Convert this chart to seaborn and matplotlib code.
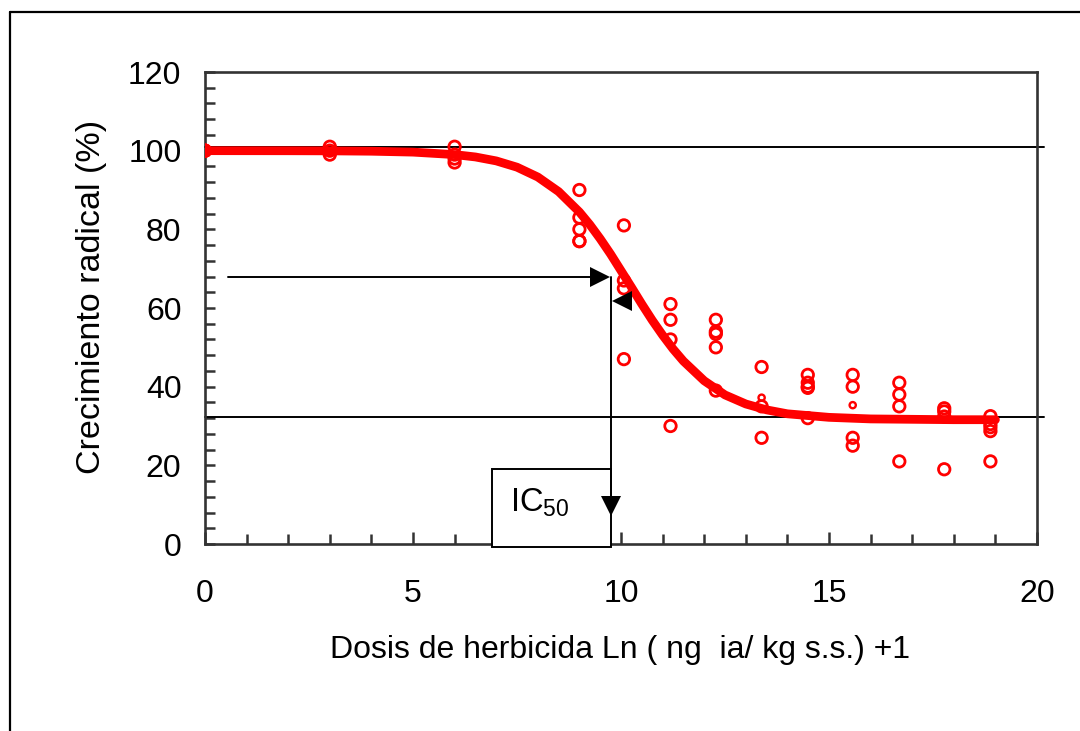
import matplotlib
matplotlib.use("Agg")
import matplotlib.pyplot as plt
import seaborn as sns
import pandas as pd
from matplotlib.lines import Line2D
from matplotlib.patches import Rectangle
from matplotlib.ticker import MultipleLocator

# ---------------- data ----------------
dose_x = [0, 0, 0,
          3, 3, 3,
          6, 6, 6, 6,
          9, 9, 9, 9, 9,
          10.07, 10.07, 10.07, 10.07,
          11.19, 11.19, 11.19, 11.19,
          12.28, 12.28, 12.28, 12.28, 12.28,
          13.38, 13.38, 13.38,
          14.49, 14.49, 14.49, 14.49, 14.49,
          15.57, 15.57, 15.57, 15.57,
          16.69, 16.69, 16.69, 16.69,
          17.77, 17.77, 17.77, 17.77,
          18.88, 18.88, 18.88, 18.88, 18.88]
growth_y = [100, 100, 100,
            101, 100, 99,
            101, 99, 98, 97,
            90, 83, 80, 77, 77,
            81, 67, 65, 47,
            61, 57, 52, 30,
            57, 54, 53.4, 50, 39,
            45, 35, 27,
            43, 41, 40, 39.7, 32,
            43, 40, 27, 25,
            41, 38, 35, 21,
            34.5, 33.7, 32.4, 19,
            32.5, 30.5, 29.7, 28.7, 21]
# small markers
small_x = [13.38, 15.57]
small_y = [37.2, 35.3]

# fitted curve
curve_x = [0, 1, 2, 3, 4, 5, 6, 6.5, 7, 7.5, 8, 8.5, 9, 9.25, 9.5, 9.75, 10,
           10.25, 10.5, 10.75, 11, 11.25, 11.5, 12, 12.5, 13, 13.5, 14, 15,
           16, 17, 18, 19]
curve_y = [100.0, 99.99, 99.98, 99.95, 99.86, 99.63, 99.0, 98.4, 97.4, 95.8,
           93.3, 89.6, 84.4, 81.2, 77.6, 73.7, 69.5, 65.3, 61.0, 56.9, 53.1,
           49.6, 46.5, 41.5, 37.9, 35.6, 34.1, 33.1, 32.2, 31.8, 31.7, 31.6, 31.6]

upper_level = 101.0
lower_level = 32.4
ic_y = 67.8
ic_x = 9.75

x_ticks = [0, 5, 10, 15, 20]
y_ticks = [0, 20, 40, 60, 80, 100, 120]

xlabel = "Dosis de herbicida Ln ( ng  ia/ kg s.s.) +1"
ylabel = "Crecimiento radical (%)"

# ---------------- style ----------------
sns.set_theme(style="white")
plt.rcParams["font.family"] = ["Liberation Sans", "DejaVu Sans"]
plt.rcParams["mathtext.fontset"] = "custom"
plt.rcParams["mathtext.rm"] = "Liberation Sans"
plt.rcParams["mathtext.it"] = "Liberation Sans"
plt.rcParams["text.color"] = "black"
plt.rcParams["axes.labelcolor"] = "black"
plt.rcParams["xtick.labelcolor"] = "black"
plt.rcParams["ytick.labelcolor"] = "black"

fig = plt.figure(figsize=(10.8, 7.31), dpi=100)
fig.patch.set_facecolor("white")
ax = fig.add_axes([205 / 1080, 1 - 544 / 731, 832 / 1080, 472 / 731])
ax.set_facecolor("white")

red = "#ff0000"

pts = pd.DataFrame({"x": dose_x, "y": growth_y})
sns.scatterplot(data=pts, x="x", y="y", ax=ax, marker="o", s=68,
                facecolor="none", edgecolor=red, linewidth=2.0, zorder=3,
                legend=False)
sm = pd.DataFrame({"x": small_x, "y": small_y})
sns.scatterplot(data=sm, x="x", y="y", ax=ax, marker="o", s=20,
                facecolor="none", edgecolor=red, linewidth=1.7, zorder=3,
                legend=False)

cv = pd.DataFrame({"x": curve_x, "y": curve_y})
sns.lineplot(data=cv, x="x", y="y", ax=ax, color=red, linewidth=6.3,
             solid_capstyle="round", zorder=4, legend=False)

# reference horizontal lines
for lv in (upper_level, lower_level):
    ax.plot([0, 20.17], [lv, lv], color="black", lw=1.4, zorder=2,
            clip_on=False)

# arrows
ax.plot([0.55, 9.6], [ic_y, ic_y], color="black", lw=1.4, zorder=5)
ax.plot([9.5], [ic_y], marker=">", ms=15, color="black", zorder=6,
        markeredgewidth=0)
ax.plot([ic_x, ic_x], [ic_y, 8], color="black", lw=1.4, zorder=5)
ax.plot([ic_x + 0.02], [9.7], marker="v", ms=15, color="black", zorder=6,
        markeredgewidth=0, clip_on=False)
ax.plot([10.02], [61.8], marker="<", ms=15, color="black", zorder=6,
        markeredgewidth=0)

# IC50 box
box = Rectangle((6.9, -0.8), ic_x - 6.9, 19.9, facecolor="white",
                edgecolor="black", lw=1.4, zorder=4, clip_on=False)
ax.add_patch(box)
ax.text(8.05, 10.6, r"IC$_{50}$", fontsize=23.5, ha="center", va="center",
        zorder=7)

# axes
ax.set_xlim(0, 20)
ax.set_ylim(0, 120)
ax.set_xticks(x_ticks)
ax.set_yticks(y_ticks)
ax.xaxis.set_minor_locator(MultipleLocator(1))
ax.yaxis.set_minor_locator(MultipleLocator(4))
ax.tick_params(axis="x", which="major", direction="in", length=9, width=1.8,
               color="#333333", labelsize=23, pad=25, bottom=True, top=False)
ax.tick_params(axis="x", which="minor", direction="in", length=7, width=1.8,
               color="#333333", bottom=True, top=False)
ax.tick_params(axis="y", which="major", direction="in", length=7, width=1.8,
               color="#333333", labelsize=23, pad=17, left=True, right=False)
ax.tick_params(axis="y", which="minor", direction="in", length=7, width=1.8,
               color="#333333", left=True, right=False)
for sp in ax.spines.values():
    sp.set_color("#333333")
    sp.set_linewidth(1.9)
    sp.set_visible(True)

ax.set_xlabel(xlabel, fontsize=23)
ax.set_ylabel(ylabel, fontsize=24.5)
ax.xaxis.set_label_coords(0.499, -0.193)
ax.yaxis.set_label_coords(-0.118, 0.523)

# outer frame (left and top visible)
fig.add_artist(Line2D([10 / 1080, 10 / 1080], [1 - 12 / 731, -0.01],
                      transform=fig.transFigure, color="black", lw=1.6))
fig.add_artist(Line2D([10 / 1080, 1.01], [1 - 12 / 731, 1 - 12 / 731],
                      transform=fig.transFigure, color="black", lw=1.6))

fig.savefig("out.png", dpi=100, facecolor="white")
